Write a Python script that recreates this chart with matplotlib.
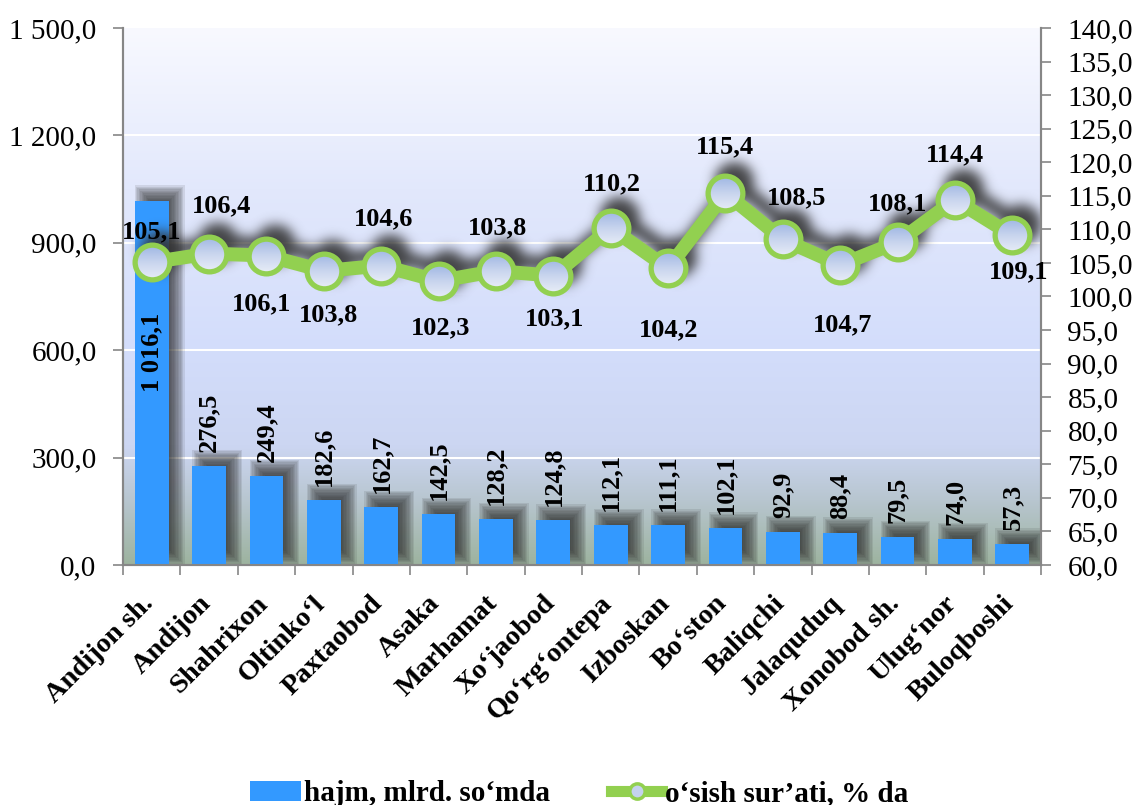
import numpy as np
import matplotlib
matplotlib.use("Agg")
import matplotlib.pyplot as plt
from matplotlib import transforms
from matplotlib.colors import LinearSegmentedColormap
from matplotlib.patches import Patch, Circle, Rectangle
from matplotlib.lines import Line2D

# ---------------- data ----------------
categories = ["Andijon sh.", "Andijon", "Shahrixon", "Oltinko\u2018l", "Paxtaobod",
              "Asaka", "Marhamat", "Xo\u2018jaobod", "Qo\u2018rg\u2018ontepa", "Izboskan",
              "Bo\u2018ston", "Baliqchi", "Jalaquduq", "Xonobod sh.", "Ulug\u2018nor",
              "Buloqboshi"]
volume = [1016.1, 276.5, 249.4, 182.6, 162.7, 142.5, 128.2, 124.8,
          112.1, 111.1, 102.1, 92.9, 88.4, 79.5, 74.0, 57.3]
growth = [105.1, 106.4, 106.1, 103.8, 104.6, 102.3, 103.8, 103.1,
          110.2, 104.2, 115.4, 108.5, 104.7, 108.1, 114.4, 109.1]
series_names = ["hajm, mlrd. so\u2018mda", "o\u2018sish sur\u2019ati, % da"]
left_ticks = [0, 300, 600, 900, 1200, 1500]
right_ticks = list(range(60, 141, 5))

# label offsets for growth labels (pixels, dx, dy)
growth_label_offsets = [(0, 30), (12, 48), (-5, -48), (5, -44), (2, 47), (2, -47),
                        (2, 43), (1, -43), (1, 44), (1, -62), (-1, 46), (14, 42),
                        (2, -60), (0, 38), (0, 45), (6, -36)]

SERIF = ["Liberation Serif", "DejaVu Serif"]
plt.rcParams["font.family"] = SERIF

BLUE = "#3399FF"
GREEN = "#92D050"


def fmt(v):
    s = f"{v:,.1f}"
    return s.replace(",", " ").replace(".", ",")


def blur(img, sigma):
    r = int(3 * sigma)
    k = np.exp(-0.5 * (np.arange(-r, r + 1) / sigma) ** 2)
    k /= k.sum()
    pad = np.pad(img, r, mode="constant")
    tmp = np.apply_along_axis(lambda row: np.convolve(row, k, mode="valid"), 1, pad)
    return np.apply_along_axis(lambda col: np.convolve(col, k, mode="valid"), 0, tmp)


W, H = 1136, 805
fig = plt.figure(figsize=(W / 100, H / 100), dpi=100)
L, R, T, B = 123, 1041, 28, 565
ax = fig.add_axes([L / W, 1 - B / H, (R - L) / W, (B - T) / H])
ax2 = ax.twinx()

x = np.arange(len(categories))
XL = (-0.5, len(categories) - 0.5)
ax.set_xlim(*XL)
ax.set_ylim(0, 1500)
ax2.set_ylim(60, 140)

x0d, y0d = L, H - B
nx, ny = R - L, B - T
PX, PY = np.meshgrid(np.arange(nx) + x0d + 0.5, np.arange(ny) + y0d + 0.5)

bw = 0.59

# background gradient
stops = [(0.0, "#9DB39F"), (0.12, "#B8C6D0"), (0.22, "#CCD6F2"), (0.4, "#D3DDFB"),
         (0.7, "#E2E8FC"), (1.0, "#F8F9FF")]
cmap = LinearSegmentedColormap.from_list("bg", stops)
grad = np.linspace(0, 1, 256).reshape(-1, 1)
ax.imshow(grad, cmap=cmap, origin="lower", extent=[0, 1, 0, 1],
          transform=ax.transAxes, aspect="auto", zorder=0)

# gridlines
for t in left_ticks[1:-1]:
    ax.axhline(t, color="white", lw=1.5, zorder=1)

# soft bar shadows: stacked translucent rectangles in pixel space
ident = transforms.IdentityTransform()
sh_dx, sh_dy = 8, 8
n_layers = 12
alpha_layer = 1 - (1 - 0.75) ** (1 / n_layers)
for xi, v in zip(x, volume):
    (p0x, p0y), (p1x, p1y) = ax.transData.transform([(xi - bw / 2, 0), (xi + bw / 2, v)])
    for e in np.linspace(8, -7, n_layers):
        rx0, ry0 = p0x + sh_dx - e, p0y + sh_dy - e
        rw, rh = (p1x - p0x) + 2 * e, (p1y - p0y) + 2 * e
        if rw <= 0 or rh <= 0:
            continue
        rect = Rectangle((rx0, ry0), rw, rh, transform=ident, facecolor="#303030",
                         edgecolor="none", alpha=alpha_layer, zorder=2)
        ax.add_patch(rect)
        rect.set_clip_box(ax.bbox)

ax.bar(x, volume, bw, color=BLUE, zorder=3)

# bar labels
for i, v in enumerate(volume):
    if i == 0:
        ax.annotate(fmt(v), (x[i], v), xytext=(0, -112), textcoords="offset pixels",
                    rotation=90, ha="center", va="top", fontsize=19, fontweight="bold",
                    zorder=5)
    else:
        ax.annotate(fmt(v), (x[i], v), xytext=(0, 14), textcoords="offset pixels",
                    rotation=90, ha="center", va="bottom", fontsize=19,
                    fontweight="bold", zorder=5)

# blurred line shadow
pts = ax2.transData.transform(np.column_stack([x, growth])) + np.array([9, 10])
lmask = np.zeros((ny, nx))
half = 7.0
for (q0x, q0y), (q1x, q1y) in zip(pts[:-1], pts[1:]):
    ddx, ddy = q1x - q0x, q1y - q0y
    t = np.clip(((PX - q0x) * ddx + (PY - q0y) * ddy) / (ddx * ddx + ddy * ddy), 0, 1)
    d = np.hypot(PX - (q0x + t * ddx), PY - (q0y + t * ddy))
    lmask[d <= half] = 1.0
for (cx, cy) in pts:
    lmask[np.hypot(PX - cx, PY - cy) <= 20] = 1.0
lmask = blur(lmask, 6.0)
lrgba = np.zeros((ny, nx, 4))
lrgba[..., :3] = 0.2
lrgba[..., 3] = np.clip(lmask * 0.9, 0, 1)
ax2.imshow(lrgba, origin="lower", extent=[0, 1, 0, 1], transform=ax2.transAxes,
           aspect="auto", zorder=1, interpolation="nearest")

# line + markers
ax2.plot(x, growth, color=GREEN, lw=10, zorder=3, solid_joinstyle="round")
mgrad = np.linspace(0, 1, 64).reshape(-1, 1)
mcmap = LinearSegmentedColormap.from_list("mk", ["#E8EDF7", "#C9D5EE", "#9EB6E3"])
rface = 17.5
for (cx, cy) in ax2.transData.transform(np.column_stack([x, growth])):
    im = ax2.imshow(mgrad, cmap=mcmap, origin="lower",
                    extent=[cx - rface, cx + rface, cy - rface, cy + rface],
                    transform=ident, aspect="auto", zorder=4)
    im.set_clip_path(Circle((cx, cy), rface, transform=ident))
ax2.plot(x, growth, ls="none", marker="o", ms=25, mew=3.8, mfc="none", mec=GREEN,
         zorder=5)

for i, v in enumerate(growth):
    dx, dy = growth_label_offsets[i]
    ax2.annotate(fmt(v), (x[i], v), xytext=(dx, dy), textcoords="offset pixels",
                 ha="center", va="center", fontsize=19, fontweight="bold", zorder=6)

# axes styling
ax.set_yticks(left_ticks)
ax.set_yticklabels([fmt(t) for t in left_ticks])
ax2.set_yticks(right_ticks)
ax2.set_yticklabels([fmt(t) for t in right_ticks])
ax.set_xticks(np.arange(-0.5, len(categories), 1.0))
ax.set_xticklabels([])
ax.tick_params(axis="x", which="major", length=7, color="#868686", width=1.2)
ax.tick_params(axis="y", length=7, color="#868686", width=1.2, labelsize=21, pad=12)
ax2.tick_params(axis="y", length=7, color="#868686", width=1.2, labelsize=21, pad=12)

# category labels (rotated, anchored at their top-right end)
lab_tr = ax.get_xaxis_transform() + transforms.ScaledTranslation(
    -11 / 100, -26 / 100, fig.dpi_scale_trans)
for xi, name in zip(x, categories):
    ax.text(xi, 0, name, transform=lab_tr, rotation=45, ha="right", va="top",
            rotation_mode="anchor", fontsize=20.5, fontweight="bold", clip_on=False)

for a in (ax, ax2):
    a.spines["top"].set_visible(False)
    for s in ("left", "right", "bottom"):
        a.spines[s].set_color("#868686")
        a.spines[s].set_linewidth(1.5)
ax.set_zorder(1)
ax2.set_zorder(2)

ax.set_xlim(*XL)
ax.set_ylim(0, 1500)
ax2.set_ylim(60, 140)
ax.set_aspect("auto")
ax2.set_aspect("auto")

# legend
handles = [Patch(facecolor=BLUE, edgecolor="none"),
           Line2D([0], [0], color=GREEN, lw=8, marker="o", ms=11, mew=2.5,
                  mfc="#C4D2EE", mec=GREEN)]
fig.legend(handles, series_names, loc="lower center", bbox_to_anchor=(0.51, -0.035),
           ncol=2, frameon=False, prop={"family": SERIF, "weight": "bold", "size": 21},
           handlelength=1.75, handletextpad=0.1, columnspacing=2.1)

fig.savefig("out.png", dpi=100)
